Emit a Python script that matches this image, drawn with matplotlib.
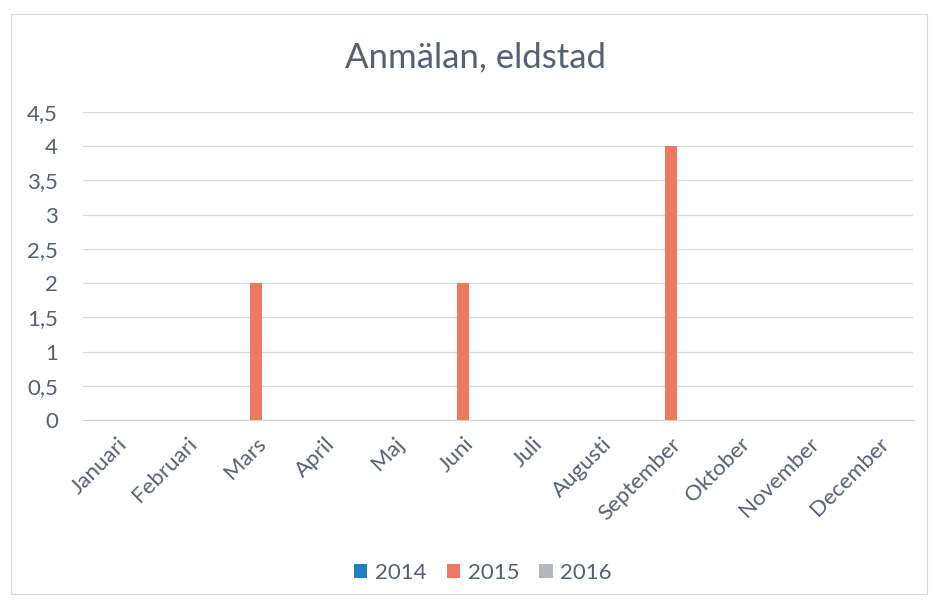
import matplotlib
matplotlib.use("Agg")
import matplotlib.pyplot as plt
import numpy as np
from matplotlib.patches import Rectangle

months = ["Januari", "Februari", "Mars", "April", "Maj", "Juni", "Juli",
          "Augusti", "September", "Oktober", "November", "December"]
series_names = ["2014", "2015", "2016"]
v2014 = [0, 0, 0, 0, 0, 0, 0, 0, 0, 0, 0, 0]
v2015 = [0, 0, 2, 0, 0, 2, 0, 0, 4, 0, 0, 0]
v2016 = [0, 0, 0, 0, 0, 0, 0, 0, 0, 0, 0, 0]
yticks = [0, 0.5, 1, 1.5, 2, 2.5, 3, 3.5, 4, 4.5]
ytick_labels = ["0", "0,5", "1", "1,5", "2", "2,5", "3", "3,5", "4", "4,5"]
title = "Anmälan, eldstad"

colors = ["#1f7fc4", "#f07862", "#b4b7be"]
text_color = "#556070"

plt.rcParams['font.family'] = ['Lato', 'DejaVu Sans']

fig = plt.figure(figsize=(9.34, 6.03), dpi=100)
fig.patches.append(Rectangle((11/934, 1-594/603), 916/934, 580/603, transform=fig.transFigure,
                             fill=False, edgecolor="#d9d9d9", linewidth=0.8))
ax = fig.add_axes([83/934, 1-420/603, 830/934, 308/603])

x = np.arange(len(months))
bw = 12/69.2
for i, (vals, name, c) in enumerate(zip([v2014, v2015, v2016], series_names, colors)):
    ax.bar(x + (i - 1) * bw, vals, width=bw, color=c, label=name, zorder=3)

ax.set_xlim(-0.5, len(months) - 0.5)
ax.set_ylim(0, 4.5)
ax.set_yticks(yticks)
ax.set_yticklabels(ytick_labels)
ax.set_xticks(x)
ax.set_xticklabels(months, rotation=45, ha="right", va="top", rotation_mode="anchor")
ax.tick_params(axis="both", length=0, colors=text_color, labelsize=16)
ax.tick_params(axis="y", pad=18)
ax.tick_params(axis="x", pad=10)
ax.grid(axis="y", color="#d9d9d9", linewidth=0.9, zorder=0)
for s in ["top", "right", "left"]:
    ax.spines[s].set_visible(False)
ax.spines["bottom"].set_color("#d0d0d0")

fig.text(476/934, 1-57/603, title, ha="center", va="center", fontsize=25, color=text_color)

leg = fig.legend(loc="center", bbox_to_anchor=(483/934, 1-573/603), ncol=3, frameon=False,
                 fontsize=16, handlelength=0.6, handleheight=0.6, handletextpad=0.35,
                 columnspacing=0.9, labelcolor=text_color)

fig.savefig("out.png", dpi=100)
